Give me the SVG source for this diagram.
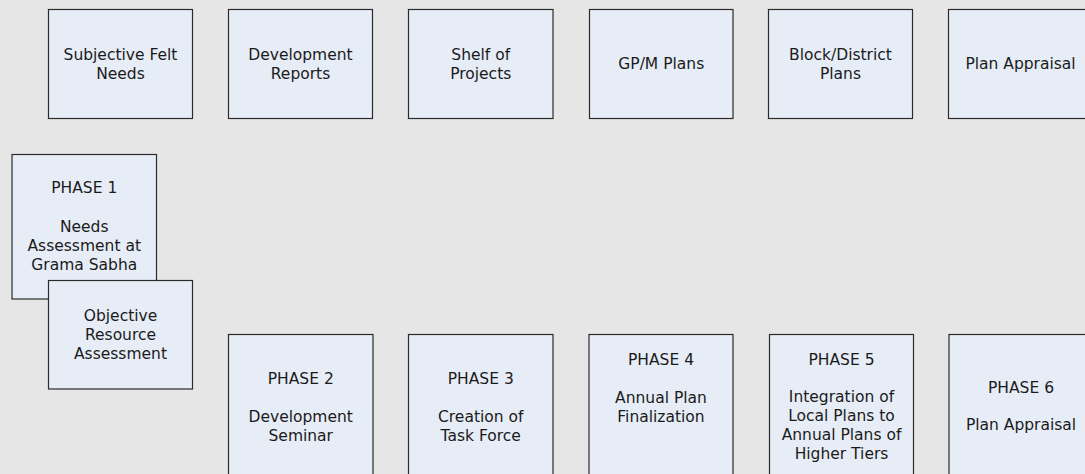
<svg xmlns="http://www.w3.org/2000/svg" width="1085" height="474" viewBox="0 0 1085 474">
<style>
.bg{fill:#E6E6E6}
.box{fill:#E7EDF7;stroke:#2b2b2b;stroke-width:1.2}
.t{font-family:"DejaVu Sans",Verdana,sans-serif;font-size:15.5px;fill:#1a1a1a;text-anchor:middle}
</style>
<rect class="bg" x="0" y="0" width="1085" height="474"/>
<g id="connectors"></g>
<g id="n-felt-needs"><rect class="box" x="48.5" y="9.5" width="144" height="109"/>
<text class="t" x="120.5" y="59.5">Subjective Felt</text><text class="t" x="120.5" y="78.5">Needs</text></g>
<g id="n-dev-reports"><rect class="box" x="228.5" y="9.5" width="144" height="109"/>
<text class="t" x="300.5" y="59.5">Development</text><text class="t" x="300.5" y="78.5">Reports</text></g>
<g id="n-shelf"><rect class="box" x="408.5" y="9.5" width="144.5" height="109"/>
<text class="t" x="480.75" y="59.5">Shelf of</text><text class="t" x="480.75" y="78.5">Projects</text></g>
<g id="n-gpm"><rect class="box" x="589.5" y="9.5" width="143.5" height="109"/>
<text class="t" x="661.25" y="69">GP/M Plans</text></g>
<g id="n-block"><rect class="box" x="768.5" y="9.5" width="144" height="109"/>
<text class="t" x="840.5" y="59.5">Block/District</text><text class="t" x="840.5" y="78.5">Plans</text></g>
<g id="n-appraisal-top"><rect class="box" x="948.5" y="9.5" width="144" height="109"/>
<text class="t" x="1020.5" y="69">Plan Appraisal</text></g>
<g id="n-phase1"><rect class="box" x="12" y="154.5" width="144.5" height="144.5"/>
<text class="t" x="84.25" y="193">PHASE 1</text><text class="t" x="84.25" y="232">Needs</text><text class="t" x="84.25" y="251">Assessment at</text><text class="t" x="84.25" y="270">Grama Sabha</text></g>
<g id="n-objective"><rect class="box" x="48.5" y="280.5" width="144" height="108.5"/>
<text class="t" x="120.5" y="321">Objective</text><text class="t" x="120.5" y="340">Resource</text><text class="t" x="120.5" y="359">Assessment</text></g>
<g id="n-phase2"><rect class="box" x="228.5" y="334.5" width="144.5" height="145"/>
<text class="t" x="300.75" y="384">PHASE 2</text><text class="t" x="300.75" y="422">Development</text><text class="t" x="300.75" y="441">Seminar</text></g>
<g id="n-phase3"><rect class="box" x="408.5" y="334.5" width="144.5" height="145"/>
<text class="t" x="480.75" y="384">PHASE 3</text><text class="t" x="480.75" y="422">Creation of</text><text class="t" x="480.75" y="441">Task Force</text></g>
<g id="n-phase4"><rect class="box" x="589" y="334.5" width="144" height="145"/>
<text class="t" x="661" y="365">PHASE 4</text><text class="t" x="661" y="403">Annual Plan</text><text class="t" x="661" y="422">Finalization</text></g>
<g id="n-phase5"><rect class="box" x="769.5" y="334.5" width="144" height="145"/>
<text class="t" x="841.5" y="365">PHASE 5</text><text class="t" x="841.5" y="402">Integration of</text><text class="t" x="841.5" y="421">Local Plans to</text><text class="t" x="841.5" y="440">Annual Plans of</text><text class="t" x="841.5" y="459">Higher Tiers</text></g>
<g id="n-phase6"><rect class="box" x="949" y="334.5" width="144" height="145"/>
<text class="t" x="1021" y="393">PHASE 6</text><text class="t" x="1021" y="430">Plan Appraisal</text></g>
</svg>
